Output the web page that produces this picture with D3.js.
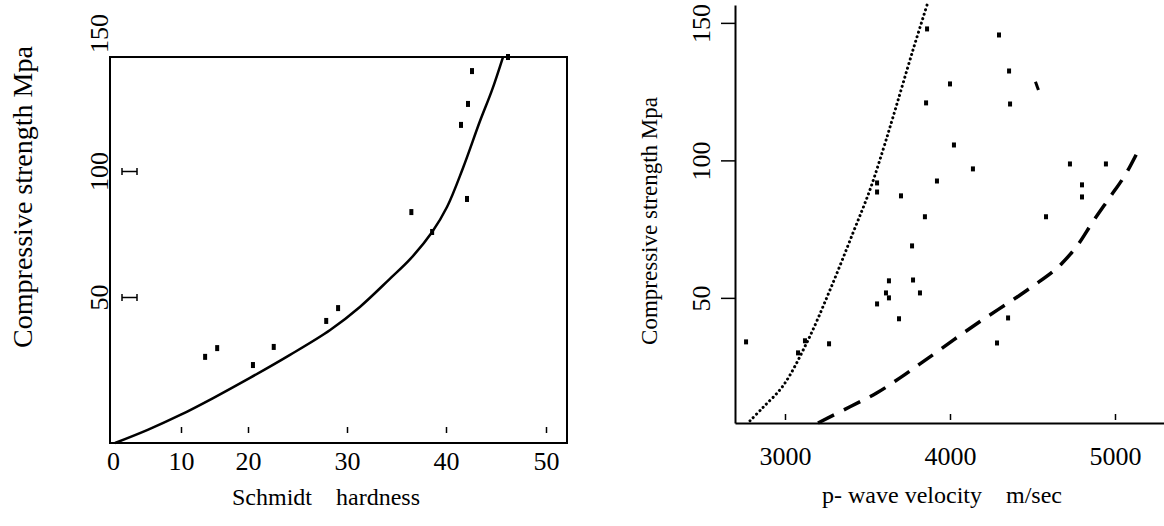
<!DOCTYPE html>
<html>
<head>
<meta charset="utf-8">
<script src="https://cdn.jsdelivr.net/npm/d3@7"></script>
<style>
  body { margin: 0; background: #fff; }
  svg text { font-family: "Liberation Serif", "Times New Roman", serif; fill: #000; }
</style>
</head>
<body>
<div id="chart"></div>
<script>
// left panel: Schmidt hardness vs compressive strength
const hardnessTicks = [0, 10, 20, 30, 40, 50];
const strengthTicksL = [50, 100, 150];
const hardnessPts = [13.6, 15.4, 20.5, 22.6, 27.9, 29.1, 36.5, 38.6, 41.5, 42.1, 42.2, 42.6, 46.2];
const strengthPtsL = [29.5, 32.5, 26.7, 32.9, 41.8, 46.2, 83.7, 75.8, 116.7, 88.9, 124.3, 136.2, 141.3];
const hardnessFit = [0.3, 5.1, 9.9, 14.8, 20.2, 24.2, 28.3, 31.3, 34.3, 36.4, 38.6, 40.1, 41.7, 43.4, 44.6, 45.7];
const strengthFit = [0, 4.5, 9.6, 15.4, 22.3, 30.1, 38.7, 46.6, 57.1, 65.1, 75.8, 85.7, 101.1, 118.1, 129.3, 141.3];

// right panel: p-wave velocity vs compressive strength
const velocityTicks = [3000, 4000, 5000];
const strengthTicksR = [50, 100, 150];
const velocityPts = [2764, 3121, 3079, 3267, 3558, 3558, 3703, 3848, 3770, 3630, 3776, 3612, 3630, 3818, 3558, 3691,
  3861, 4297, 4358, 4000, 3855, 4364, 4024, 4139, 3921, 4727, 4945, 4800, 4800, 4582, 4352, 4285];
const strengthPtsR = [34.0, 34.4, 30.0, 33.3, 91.8, 88.5, 87.1, 79.5, 68.9, 56.2, 56.5, 51.8, 50.0, 51.8, 47.8, 42.4,
  147.8, 145.6, 132.5, 127.8, 120.9, 120.5, 105.6, 96.9, 92.5, 98.7, 98.7, 91.1, 86.7, 79.5, 42.7, 33.6];
const velocityUpper = [2788, 2867, 2988, 3133, 3273, 3412, 3515, 3594, 3655, 3776, 3861];
const strengthUpper = [5.3, 10.2, 18.0, 33.8, 52.9, 73.6, 89.3, 103.8, 115.8, 140.2, 156.5];
const velocityLower = [3200, 3394, 3558, 3697, 3818, 3927, 4073, 4224, 4382, 4527, 4624, 4679, 4770, 4867, 4970, 5061, 5152];
const strengthLower = [4.5, 10.4, 15.5, 20.9, 26.0, 30.6, 36.9, 43.1, 49.3, 55.3, 59.6, 62.6, 68.9, 77.8, 86.7, 94.6, 104.9];
const velocityStray = [4518, 4536];
const strengthStray = [128.6, 125.6];

const serif = "'Liberation Serif', 'Times New Roman', serif";

const svg = d3.select("#chart")
  .append("svg")
    .attr("width", 1164)
    .attr("height", 526);

// ---------- left panel ----------
const xL = d3.scaleLinear()
  .domain([0, 10, 20, 30, 40, 50, 52.1])
  .range([113, 181, 248, 347, 446, 546, 567]);
const yL = d3.scaleLinear()
  .domain([0, 50, 100, 150])
  .range([443, 297, 171, 33]);

const left = svg.append("g");

left.append("rect")
  .attr("x", 110)
  .attr("y", yL(141.3))
  .attr("width", xL(52.1) - 110)
  .attr("height", yL(0) - yL(141.3))
  .attr("fill", "none")
  .attr("stroke", "#000")
  .attr("stroke-width", 2);

// tick labels under the box
left.append("g")
  .attr("transform", `translate(0, ${yL(0)})`)
  .call(d3.axisBottom(xL).tickValues(hardnessTicks).tickSize(0).tickPadding(9))
  .attr("font-family", serif)
  .attr("font-size", 26)
  .call(g => g.select(".domain").remove());

// small marks inside the box
left.append("g")
  .attr("transform", `translate(0, ${yL(0) - 16})`)
  .call(d3.axisBottom(xL).tickValues(hardnessTicks.slice(1)).tickSize(6).tickFormat(""))
  .call(g => g.select(".domain").remove())
  .selectAll("line").attr("stroke-width", 1.5);

// rotated y labels
left.append("g")
  .attr("transform", "translate(110, 0)")
  .call(d3.axisLeft(yL).tickValues(strengthTicksL).tickSize(0))
  .attr("font-family", serif)
  .attr("font-size", 26)
  .call(g => g.select(".domain").remove())
  .selectAll("text")
    .attr("transform", "rotate(-90)")
    .attr("x", 0)
    .attr("y", -2)
    .attr("dy", 0)
    .style("text-anchor", "middle");

// I-shaped marks inside the box
const iMarks = left.append("g")
  .attr("transform", "translate(122, 0)")
  .call(d3.axisLeft(yL).tickValues([50, 100]).tickSize(-15).tickFormat(""))
  .call(g => g.select(".domain").remove());
iMarks.selectAll(".tick line").attr("stroke-width", 1.5);
iMarks.selectAll(".tick").each(function() {
  const t = d3.select(this);
  [0, 15].forEach(dx => t.append("line")
    .attr("x1", dx).attr("x2", dx).attr("y1", -3.5).attr("y2", 3.5)
    .attr("stroke", "#000").attr("stroke-width", 1.5));
});

left.append("path")
  .datum(d3.zip(hardnessFit, strengthFit))
  .attr("fill", "none")
  .attr("stroke", "#000")
  .attr("stroke-width", 2.5)
  .attr("d", d3.line().x(d => xL(d[0])).y(d => yL(d[1])).curve(d3.curveCatmullRom));

left.selectAll(".ptL")
  .data(d3.zip(hardnessPts, strengthPtsL))
  .join("rect")
    .attr("class", "ptL")
    .attr("x", d => xL(d[0]) - 2)
    .attr("y", d => yL(d[1]) - 3)
    .attr("width", 4)
    .attr("height", 6)
    .attr("fill", "#000");

left.append("text")
  .attr("transform", `translate(32, 197) rotate(-90)`)
  .style("text-anchor", "middle")
  .style("font-size", "28px")
  .text("Compressive strength Mpa");

left.append("text")
  .attr("x", 326)
  .attr("y", 505)
  .style("text-anchor", "middle")
  .style("white-space", "pre")
  .style("font-size", "24px")
  .text("Schmidt    hardness");

// ---------- right panel ----------
const xR = d3.scaleLinear()
  .domain([2697, 5297])
  .range([735, 1164]);
const yR = d3.scaleLinear()
  .domain([4.5, 156.5])
  .range([423, 5]);

const right = svg.append("g");

right.append("g")
  .attr("transform", "translate(735, 0)")
  .call(d3.axisLeft(yR).tickValues(strengthTicksR).tickSizeInner(14).tickSizeOuter(0).tickPadding(0))
  .attr("font-family", serif)
  .attr("font-size", 26)
  .call(g => g.select(".domain").attr("stroke-width", 2))
  .call(g => g.selectAll(".tick line").attr("stroke-width", 1.5))
  .selectAll("text")
    .attr("transform", "rotate(-90)")
    .attr("x", 0)
    .attr("y", -25)
    .attr("dy", 0)
    .style("text-anchor", "middle");

right.append("g")
  .attr("transform", `translate(0, ${yR(4.5)})`)
  .call(d3.axisBottom(xR).tickValues(velocityTicks).tickSize(0).tickPadding(24).tickFormat(d3.format("d")))
  .attr("font-family", serif)
  .attr("font-size", 26)
  .call(g => g.select(".domain").attr("stroke-width", 2));

right.append("g")
  .attr("transform", `translate(0, ${yR(4.5) - 9})`)
  .call(d3.axisBottom(xR).tickValues(velocityTicks).tickSize(6).tickFormat(""))
  .call(g => g.select(".domain").remove())
  .selectAll("line").attr("stroke-width", 1.5);

const lineR = d3.line().x(d => xR(d[0])).y(d => yR(d[1])).curve(d3.curveCatmullRom);

right.append("path")
  .datum(d3.zip(velocityUpper, strengthUpper))
  .attr("fill", "none")
  .attr("stroke", "#000")
  .attr("stroke-width", 3)
  .attr("stroke-linecap", "round")
  .attr("stroke-dasharray", "0.1,4.6")
  .attr("d", lineR);

right.append("path")
  .datum(d3.zip(velocityLower, strengthLower))
  .attr("fill", "none")
  .attr("stroke", "#000")
  .attr("stroke-width", 3.5)
  .attr("stroke-dasharray", "18,11")
  .attr("d", lineR);

right.append("path")
  .datum(d3.zip(velocityStray, strengthStray))
  .attr("fill", "none")
  .attr("stroke", "#000")
  .attr("stroke-width", 3)
  .attr("d", d3.line().x(d => xR(d[0])).y(d => yR(d[1])));

right.selectAll(".ptR")
  .data(d3.zip(velocityPts, strengthPtsR))
  .join("rect")
    .attr("class", "ptR")
    .attr("x", d => xR(d[0]) - 2)
    .attr("y", d => yR(d[1]) - 2.5)
    .attr("width", 4)
    .attr("height", 5)
    .attr("fill", "#000");

right.append("text")
  .attr("transform", `translate(657, 221) rotate(-90)`)
  .style("text-anchor", "middle")
  .style("font-size", "23px")
  .text("Compressive strength Mpa");

right.append("text")
  .attr("x", 942)
  .attr("y", 503)
  .style("text-anchor", "middle")
  .style("white-space", "pre")
  .style("font-size", "24px")
  .text("p- wave velocity    m/sec");
</script>
</body>
</html>
